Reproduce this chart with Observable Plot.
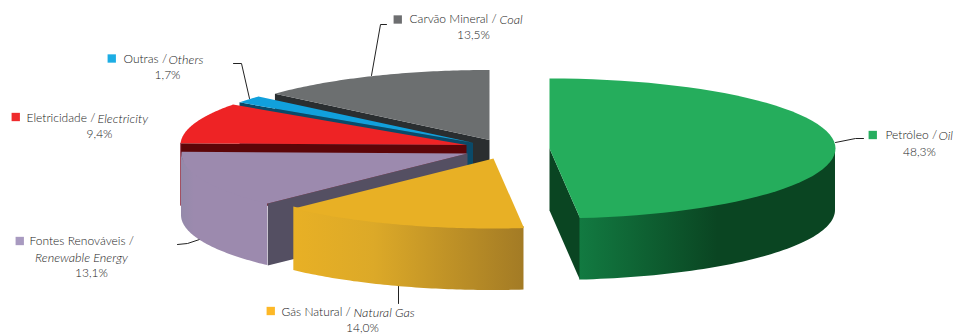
<!DOCTYPE html>
<html><head><meta charset="utf-8">
<style>html,body{margin:0;padding:0;background:#fff}svg{display:block}</style>
<script src="https://cdn.jsdelivr.net/npm/d3@7"></script>
<script src="https://cdn.jsdelivr.net/npm/@observablehq/plot@0.6"></script>
</head><body><script>
// Data
const sources = ["Petróleo","Gás Natural","Fontes Renováveis","Eletricidade","Outras","Carvão Mineral"];
const sourcesEn = ["Oil","Natural Gas","Renewable Energy","Electricity","Others","Coal"];
const shares = [48.3,14.0,13.1,9.4,1.7,13.5];
const shareLabels = ["48,3%","14,0%","13,1%","9,4%","1,7%","13,5%"];

// Styles
const topColors = ["#25ad5c","#e8b025","#9c8aae","#ee2325","#11a0dc","#6c6f70"];
const cutColors = ["#0a4522","#8a6a20","#544f62","#5c0508","#0a4a69","#2a2e30"];
const swatchColors = ["#26ae5f","#fdb827","#a89ac0","#ef2b2d","#1cade4","#6d6e70"];
const wallStops = [
  [[0,"#127a41"],[0.54,"#0a4522"],[1,"#0a4522"]],
  [[0,"#e8b025"],[0.35,"#dca928"],[1,"#a37b25"]],
  [[0,"#948aaa"],[0.15,"#9c8aae"],[1,"#9c8aae"]]
];
// Layout: explosion centres, ellipse radii, extrusion depth, in chart units
const centres = [[549,148],[493,158],[467,153],[466,144.5],[472.5,142.3],[489,139.5]];
const rx = 286, ry = 70, depth = 62;

const cum = d3.cumsum(shares);
const slices = sources.map((name,i)=>({
  name, i, a0:(i?cum[i-1]:0)*3.6, a1:cum[i]*3.6, cx:centres[i][0], cy:centres[i][1]
}));
const rad = d=>d*Math.PI/180;
const pt = (s,a,dz=0)=>({x:s.cx+rx*Math.sin(rad(a)), y:s.cy-ry*Math.cos(rad(a))+dz});
const arcPts = (s,a0,a1,n=60)=>d3.range(n+1).map(k=>pt(s,a0+(a1-a0)*k/n));

function defs(){
  const d = d3.create("svg:defs");
  wallStops.forEach((st,i)=>{
    const g = d.append("linearGradient").attr("id","wall"+i);
    st.forEach(([o,c])=>g.append("stop").attr("offset",o).attr("stop-color",c));
  });
  return d.node();
}

const marks = [()=>defs()];

// leaders, behind the pie
const leaders = [
  [[835,142],[855,138],[863,138]],
  [[398,284],[398,303]],
  [[202,238],[187,243],[177,244]],
  [[249,98],[241,63],[233,63]],
  [[371,75],[380,24],[386,24]]
];
leaders.forEach(l=>marks.push(Plot.line(l,{x:d=>d[0],y:d=>d[1],stroke:"#222",strokeWidth:1})));

// painter's order, back to front
[5,4,3,2,1,0].forEach(i=>{
  const s = slices[i];
  const cutA = s.a0>180 ? s.a0 : (s.a1<180 ? s.a1 : null);
  if (cutA!==null){
    const c = {x:s.cx,y:s.cy}, e = pt(s,cutA);
    const cut = [c,e,{x:e.x,y:e.y+depth},{x:c.x,y:c.y+depth}];
    marks.push(Plot.line(cut,{x:"x",y:"y",fill:cutColors[i],stroke:"none"}));
    if (i===3) marks.push(Plot.line([e,{x:e.x,y:e.y+depth}],{x:"x",y:"y",stroke:"#a04a5e",strokeWidth:1}));
  }
  const w0 = Math.max(s.a0,90), w1 = Math.min(s.a1,270);
  if (w1>w0){
    const wall = arcPts(s,w0,w1).sort((a,b)=>a.x-b.x).map(p=>({x:p.x,y1:p.y-1.5,y2:p.y+depth}));
    marks.push(Plot.area(wall,{x1:"x",y1:"y1",y2:"y2",fill:`url(#wall${i})`}));
  }
  const face = [{x:s.cx,y:s.cy},...arcPts(s,s.a0,s.a1)];
  marks.push(Plot.line(face,{x:"x",y:"y",fill:topColors[i],stroke:"none"}));
});

// Legend layout
const labelFont = {fontFamily:"Lato",fontSize:12,fill:"#222",fontWeight:300};
const italicFont = {...labelFont,fontSize:12.6,fontStyle:"italic"};
const legend = [
  {i:0,sw:[868,134.5],x:885,ix:938,y:135,px:919,py:152},
  {i:1,sw:[266,310.5],x:281,ix:353,y:312,px:362,py:328},
  {i:3,sw:[11,116.5],x:26,ix:97,y:118,px:99,py:134},
  {i:4,sw:[107,58],x:123,ix:168,y:59,px:167,py:75},
  {i:5,sw:[393,19],x:409,ix:499,y:19,px:473,py:35}
];
legend.forEach(l=>{
  marks.push(Plot.text([sources[l.i]+" /"],{x:()=>l.x,y:()=>l.y,text:d=>d,textAnchor:"start",...labelFont}));
  marks.push(Plot.text([sourcesEn[l.i]],{x:()=>l.ix,y:()=>l.y,text:d=>d,textAnchor:"start",...italicFont}));
  marks.push(Plot.text([shareLabels[l.i]],{x:()=>l.px,y:()=>l.py,text:d=>d,textAnchor:"middle",...labelFont}));
});
// renewable: three lines
marks.push(Plot.text([sources[2]+" /"],{x:()=>29,y:()=>241,text:d=>d,textAnchor:"start",...labelFont}));
marks.push(Plot.text([sourcesEn[2]],{x:()=>81,y:()=>257,text:d=>d,textAnchor:"middle",...italicFont}));
marks.push(Plot.text([shareLabels[2]],{x:()=>91,y:()=>273,text:d=>d,textAnchor:"middle",...labelFont}));

// swatches
const swatches = [...legend,{i:2,sw:[15,240.5]}];
marks.push(Plot.dot(swatches,{x:d=>d.sw[0]+4.25,y:d=>d.sw[1],symbol:"square",r:4.7,fill:d=>swatchColors[d.i],stroke:"none"}));

const chart = Plot.plot({
  width:955,height:334,margin:0,
  x:{domain:[0,955],range:[0,955],axis:null},
  y:{domain:[0,334],range:[0,334],axis:null},
  color:{type:"identity"},
  style:{background:"#fff"},
  marks
});
document.body.append(chart);
</script></body></html>
